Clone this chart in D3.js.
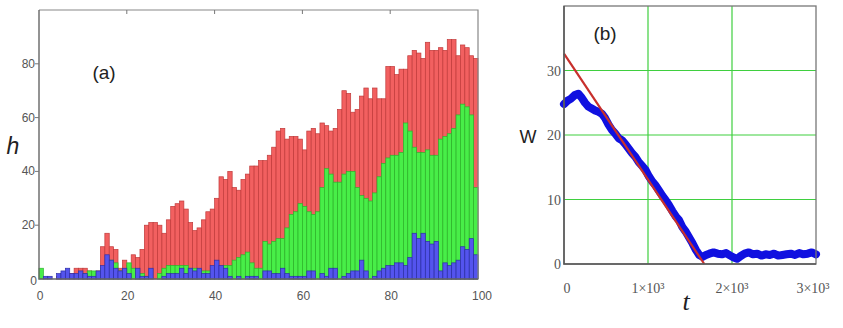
<!DOCTYPE html>
<html>
<head>
<meta charset="utf-8">
<script src="https://cdn.jsdelivr.net/npm/d3@7"></script>
<style>
  body { margin: 0; background: #fff; }
  svg { display: block; }
  .tick-a { font-family: "Liberation Sans", Arial, sans-serif; font-size: 12px; fill: #555; }
  .tick-b { font-family: "Liberation Serif", "Times New Roman", serif; font-size: 14px; fill: #555; }
</style>
</head>
<body>
<div id="chart"></div>
<script>
// ---- panel (a): histogram of h, three overlaid series
var hRed = [0,0,0,0,1,2,1,2,4,4, 4,3,2,3,12,17,12,11,4,7, 5,9,8,11,20,21,21,20,17,22,
            27,28,29,26,21,18,19,22,25,26, 30,38,37,40,34,33,37,39,42,42, 44,44,46,49,55,56,52,53,53,52,
            48,55,56,54,58,57,55,56,63,70, 69,62,63,68,71,67,71,67,67,79, 79,76,78,78,83,85,84,82,88,85,
            85,86,85,89,89,83,87,86,83,82];
var hGreen = [4,0,0,0,0,0,0,0,0,0, 2,3,3,2,4,5,7,6,3,2, 6,4,2,2,1,0,0,2,4,5,
              5,5,5,5,4,4,3,3,3,3, 3,2,5,5,7,8,9,10,6,4, 4,14,13,14,15,15,19,24,25,28,
              27,25,24,25,34,41,39,36,36,39, 40,40,34,31,30,29,32,38,43,45, 46,46,47,58,55,49,47,47,48,46,
              46,52,53,54,56,61,65,64,61,34];
var hBlue = [0,1,1,0,2,3,4,2,2,3, 2,1,1,3,5,9,7,4,3,4, 2,0,4,1,1,4,0,0,1,2,
             2,2,4,2,4,3,4,2,2,5, 7,5,4,1,0,1,0,1,1,1, 0,3,3,2,2,4,2,1,1,1,
             1,3,3,0,2,1,4,4,0,1, 2,3,3,7,3,0,1,3,4,5, 5,6,6,5,8,17,15,17,14,13,
             14,3,6,5,6,7,12,11,15,9];
var aTicksX = [0, 20, 40, 60, 80, 100];
var aTicksY = [0, 20, 40, 60, 80];

// ---- panel (b): W(t), measured curve and fitted line
var wT = [0,40,80,130,170,210,250,290,330,370,410,450,490,530,570,610,650,690,730,770,810,850,890,930,970,
          1010,1050,1090,1130,1170,1210,1250,1290,1330,1370,1410,1450,1490,1530,1570,1610,1650,1690,1730,1780,
          1830,1880,1930,1980,2020,2060,2100,2150,2200,2250,2300,2350,2400,2450,2500,2550,2600,2650,2700,
          2750,2800,2850,2900,2950,3000];
var wVal = [24.8,25.3,25.6,26.2,26.4,25.8,25,24.4,24.1,23.8,23.6,23.3,22.6,21.6,20.8,20.2,19.5,19.2,18.6,17.9,
            17.2,16.6,15.8,15.2,14.6,13.6,12.8,12.2,11.4,10.6,9.9,9.1,8.2,7.4,6.8,5.7,5,4.1,3.2,2.2,1.4,1.1,1.4,1.6,1.8,
            1.6,1.5,1.7,1.3,1,0.8,1.2,1.6,1.8,1.5,1.6,1.3,1.5,1.4,1.6,1.3,1.4,1.5,1.6,
            1.4,1.7,1.5,1.6,1.8,1.5];
var fitT = [0, 1670];
var fitW = [32.6, 0];
var bTicksX = [0, 1000, 2000, 3000];
var bTickLabels = ['0', '1×10³', '2×10³', '3×10³'];
var bTicksY = [0, 10, 20, 30];

var svg = d3.select('#chart').append('svg')
            .attr('width', 843).attr('height', 328);

// ================= panel (a)
var xa = d3.scaleLinear().domain([0, 100]).range([39, 478]),
    ya = d3.scaleLinear().domain([0, 100]).range([279, 10]);

var ga = svg.append('g').attr('id', 'panel_a');

var series = [
  {vals: hRed,   fill: '#f26060', stroke: '#c03a3a'},
  {vals: hGreen, fill: '#48ee48', stroke: '#2cb52c'},
  {vals: hBlue,  fill: '#5454ee', stroke: '#2e2ea8'}
];

series.forEach(function(s) {
  ga.append('g').selectAll('rect')
    .data(s.vals)
    .enter().append('rect')
      .attr('x', function(d, i) { return xa(i); })
      .attr('width', function(d, i) { return xa(i + 1) - xa(i); })
      .attr('y', function(d) { return ya(d); })
      .attr('height', function(d) { return ya(0) - ya(d); })
      .attr('fill', s.fill)
      .attr('stroke', s.stroke)
      .attr('stroke-width', 0.7)
      .attr('stroke-opacity', function(d) { return d > 0 ? 1 : 0; });
});

// frame: top and right in light gray, left/bottom darker
ga.append('path')
  .attr('d', 'M' + xa(0) + ',' + ya(100) + 'H' + xa(100) + 'V' + ya(0))
  .attr('fill', 'none').attr('stroke', '#888').attr('stroke-width', 1.2);
ga.append('path')
  .attr('d', 'M' + xa(0) + ',' + ya(100) + 'V' + ya(0) + 'H' + xa(100))
  .attr('fill', 'none').attr('stroke', '#666').attr('stroke-width', 1.4);

// small ticks on top border and left axis
ga.selectAll('.ttop').data([20, 40, 60, 80]).enter().append('line')
  .attr('x1', function(d) { return xa(d); }).attr('x2', function(d) { return xa(d); })
  .attr('y1', ya(100)).attr('y2', ya(100) + 4)
  .attr('stroke', '#777');
ga.selectAll('.tleft').data(aTicksY.slice(1)).enter().append('line')
  .attr('x1', xa(0) - 4).attr('x2', xa(0))
  .attr('y1', function(d) { return ya(d); }).attr('y2', function(d) { return ya(d); })
  .attr('stroke', '#777');

ga.selectAll('.lx').data(aTicksX).enter().append('text')
  .attr('class', 'tick-a')
  .attr('x', function(d) { return xa(d) + (d === 100 ? 4 : 1); })
  .attr('y', 300)
  .attr('text-anchor', 'middle')
  .text(function(d) { return d; });
ga.selectAll('.ly').data(aTicksY).enter().append('text')
  .attr('class', 'tick-a')
  .attr('x', function(d) { return d === 0 ? xa(0) - 2 : xa(0) - 4; })
  .attr('y', function(d) { return ya(d) + (d === 0 ? 6 : 4); })
  .attr('text-anchor', 'end')
  .text(function(d) { return d; });

ga.append('text').attr('x', 104).attr('y', 79)
  .attr('text-anchor', 'middle')
  .style('font-family', '"Liberation Sans", Arial, sans-serif').style('font-size', '19px').attr('fill', '#222')
  .text('(a)');
ga.append('text').attr('x', 13).attr('y', 154)
  .attr('text-anchor', 'middle')
  .style('font-family', '"Liberation Sans", Arial, sans-serif').style('font-size', '23px')
  .style('font-style', 'italic').attr('fill', '#222')
  .text('h');

// ================= panel (b)
var xb = d3.scaleLinear().domain([0, 3000]).range([564, 816]),
    yb = d3.scaleLinear().domain([0, 40]).range([264, 6]);

var gb = svg.append('g').attr('id', 'panel_b');

// green grid
gb.selectAll('.gx').data([1000, 2000]).enter().append('line')
  .attr('x1', function(d) { return xb(d); }).attr('x2', function(d) { return xb(d); })
  .attr('y1', yb(40)).attr('y2', yb(0))
  .attr('stroke', '#3fcf3f').attr('stroke-width', 1.2);
gb.selectAll('.gy').data([10, 20, 30]).enter().append('line')
  .attr('x1', xb(0)).attr('x2', xb(3000))
  .attr('y1', function(d) { return yb(d); }).attr('y2', function(d) { return yb(d); })
  .attr('stroke', '#3fcf3f').attr('stroke-width', 1.2);

var wLine = d3.line()
  .x(function(d, i) { return xb(wT[i]); })
  .y(function(d) { return yb(d); });

gb.append('path')
  .datum(wVal)
  .attr('d', wLine)
  .attr('fill', 'none')
  .attr('stroke', '#1010e0')
  .attr('stroke-width', 8)
  .attr('stroke-linejoin', 'round')
  .attr('stroke-linecap', 'round');

gb.append('path')
  .datum(fitW)
  .attr('d', d3.line()
    .x(function(d, i) { return xb(fitT[i]); })
    .y(function(d) { return yb(d); }))
  .attr('fill', 'none')
  .attr('stroke', '#c8302c')
  .attr('stroke-width', 2.2);

// frame
gb.append('rect')
  .attr('x', xb(0)).attr('y', yb(40))
  .attr('width', xb(3000) - xb(0)).attr('height', yb(0) - yb(40))
  .attr('fill', 'none').attr('stroke', '#777').attr('stroke-width', 1.3);
gb.append('path')
  .attr('d', 'M' + xb(0) + ',' + yb(40) + 'V' + yb(0) + 'H' + xb(3000))
  .attr('fill', 'none').attr('stroke', '#555').attr('stroke-width', 1.5);

gb.selectAll('.bx').data(bTicksX).enter().append('text')
  .attr('class', 'tick-b')
  .attr('x', function(d, i) { return xb(d) + (i === 0 ? 3 : i === 3 ? -3 : 0); })
  .attr('y', 293)
  .attr('text-anchor', 'middle')
  .text(function(d, i) { return bTickLabels[i]; });
gb.selectAll('.by').data(bTicksY).enter().append('text')
  .attr('class', 'tick-b')
  .attr('x', xb(0) - 3)
  .attr('y', function(d) { return yb(d) + 5; })
  .attr('text-anchor', 'end')
  .text(function(d) { return d; });

gb.append('text').attr('x', 605).attr('y', 40)
  .attr('text-anchor', 'middle')
  .style('font-family', '"Liberation Sans", Arial, sans-serif').style('font-size', '19px').attr('fill', '#222')
  .text('(b)');
gb.append('text').attr('x', 528).attr('y', 143)
  .attr('text-anchor', 'middle')
  .style('font-family', '"Liberation Sans", Arial, sans-serif').style('font-size', '18px').attr('fill', '#222')
  .text('W');
gb.append('text').attr('x', 686).attr('y', 310)
  .attr('text-anchor', 'middle')
  .style('font-family', '"Liberation Serif", "Times New Roman", serif').style('font-size', '26px')
  .style('font-style', 'italic').attr('fill', '#222')
  .text('t');
</script>
</body>
</html>
